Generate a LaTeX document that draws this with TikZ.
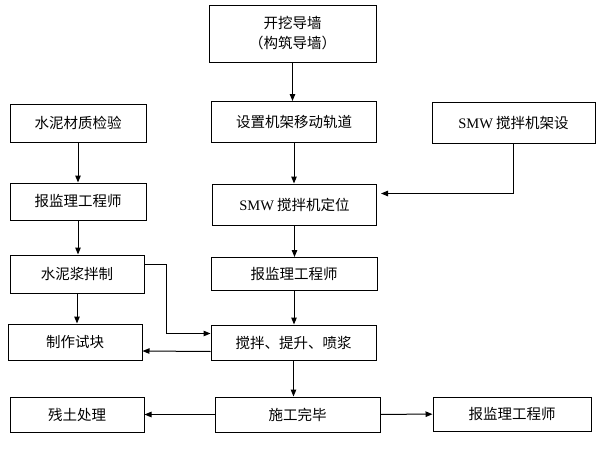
\documentclass[tikz,border=0pt]{standalone}
\usepackage{fontspec}
\setmainfont{Noto Sans CJK SC}
\newfontfamily\latinfont{Liberation Serif}
\usetikzlibrary{arrows.meta}

\begin{document}
\begin{tikzpicture}[x=1pt,y=-1pt,line width=1pt,
  >={Triangle[length=7pt,width=5.5pt]},
  box/.style={draw,rectangle,align=center,inner sep=0pt,
    font=\fontsize{14.5}{20}\selectfont}]
\useasboundingbox (0,0) rectangle (600,450);
\node[box,minimum width=167pt,minimum height=57pt] (dig) at (292.5,33.5) {开挖导墙\\（构筑导墙）};
\node[box,minimum width=165pt,minimum height=41pt] (track) at (294,122) {设置机架移动轨道};
\node[box,minimum width=163pt,minimum height=41pt] (erect) at (513.5,122.5) {{\latinfont SMW} 搅拌机架设};
\node[box,minimum width=136pt,minimum height=38pt] (cement) at (78,123) {水泥材质检验};
\node[box,minimum width=136pt,minimum height=37pt] (report1) at (78,201.5) {报监理工程师};
\node[box,minimum width=164pt,minimum height=41pt] (locate) at (294.5,204.5) {{\latinfont SMW} 搅拌机定位};
\node[box,minimum width=134pt,minimum height=38pt] (slurry) at (77,274) {水泥浆拌制};
\node[box,minimum width=166pt,minimum height=33pt] (report2) at (294,274) {报监理工程师};
\node[box,minimum width=134pt,minimum height=36pt] (block) at (75,342) {制作试块};
\node[box,minimum width=165pt,minimum height=35pt] (mix) at (293.5,342.5) {搅拌、提升、喷浆};
\node[box,minimum width=134pt,minimum height=35pt] (soil) at (77,414.5) {残土处理};
\node[box,minimum width=165pt,minimum height=35pt] (done) at (297.5,414.5) {施工完毕};
\node[box,minimum width=158pt,minimum height=34pt] (report3) at (512,414) {报监理工程师};

\draw[->] (dig) -- (dig |- track.north);
\draw[->] (track) -- (track |- locate.north);
\draw[->] (locate) -- (locate |- report2.north);
\draw[->] (report2) -- (report2 |- mix.north);
\draw[->] (mix) -- (mix |- done.north);
\draw[->] (cement) -- (cement |- report1.north);
\draw[->] (report1) -- (report1 |- slurry.north);
\draw[->] (slurry) -- (slurry |- block.north);
\draw[->] (erect.south) |- ([shift={(4pt,11pt)}]locate.east);
\draw[->] ([yshift=10pt]slurry.east) -- ++(22,0) |- ([yshift=9pt]mix.west);
\draw[->] ([yshift=-9pt]mix.west) -- ([yshift=-9pt]block.east);
\draw[->] (done) -- (soil);
\draw[->] (done) -- (report3);
\end{tikzpicture}
\end{document}
